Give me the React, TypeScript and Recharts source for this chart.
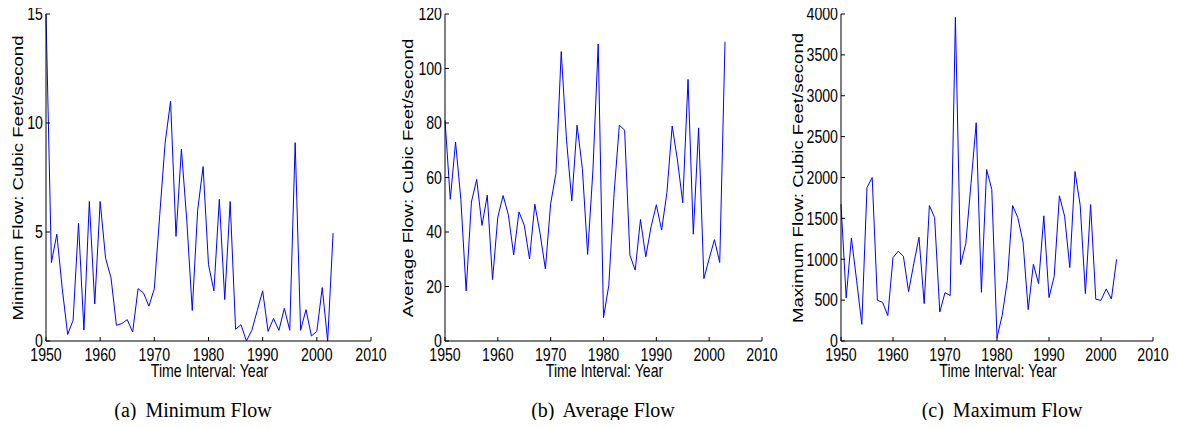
import React from "react";
import { LineChart, Line, XAxis, YAxis } from "recharts";

const years = [
  1950, 1951, 1952, 1953, 1954, 1955, 1956, 1957, 1958, 1959,
  1960, 1961, 1962, 1963, 1964, 1965, 1966, 1967, 1968, 1969,
  1970, 1971, 1972, 1973, 1974, 1975, 1976, 1977, 1978, 1979,
  1980, 1981, 1982, 1983, 1984, 1985, 1986, 1987, 1988, 1989,
  1990, 1991, 1992, 1993, 1994, 1995, 1996, 1997, 1998, 1999,
  2000, 2001, 2002, 2003,
];

const minFlow = [
  15.0, 3.6, 4.9, 2.4, 0.3, 0.95, 5.4, 0.5, 6.4, 1.7,
  6.4, 3.8, 2.9, 0.72, 0.8, 0.98, 0.41, 2.4, 2.2, 1.6,
  2.4, 5.8, 9.1, 11.0, 4.8, 8.8, 5.5, 1.4, 6.0, 8.0,
  3.5, 2.3, 6.5, 1.9, 6.4, 0.54, 0.75, 0.0, 0.49, 1.4,
  2.3, 0.44, 1.03, 0.49, 1.5, 0.49, 9.1, 0.49, 1.44, 0.23,
  0.44, 2.45, 0.0, 4.95,
];

const avgFlow = [
  81, 52, 73, 52, 18.4, 51, 59.3, 42.4, 53.5, 22.5,
  45.5, 53.4, 46.2, 31.6, 47.4, 42.5, 30.1, 50.2, 39.4, 26.4,
  50.4, 61.5, 106.2, 73.7, 51.4, 79.2, 63.3, 31.8, 62.7, 109,
  8.6, 20.4, 54.1, 79.2, 77.4, 31.5, 26, 44.6, 30.9, 41.9,
  50, 40.7, 54.4, 78.9, 66.4, 50.7, 96, 39.2, 78.2, 22.9,
  30.2, 37.2, 28.8, 109.8,
];

const maxFlow = [
  1673, 527, 1261, 743, 204, 1878, 2000, 498, 473, 310,
  1020, 1098, 1037, 604, 947, 1269, 457, 1657, 1510, 355,
  592, 555, 3959, 935, 1192, 1927, 2669, 596, 2098, 1853,
  41, 314, 743, 1657, 1510, 1212, 384, 939, 702, 1531,
  531, 792, 1776, 1527, 898, 2073, 1661, 580, 1669, 510,
  498, 637, 514, 1000,
];

const yearTicks = [1950, 1960, 1970, 1980, 1990, 2000, 2010];
const minTicks = [0, 5, 10, 15];
const avgTicks = [0, 20, 40, 60, 80, 100, 120];
const maxTicks = [0, 500, 1000, 1500, 2000, 2500, 3000, 3500, 4000];

const yTitles = [
  "Minimum Flow: Cubic Feet/second",
  "Average Flow: Cubic Feet/second",
  "Maximum Flow: Cubic Feet/second",
];
const xTitle = "Time Interval: Year";
const captions = ["(a)\u2009 Minimum Flow", "(b)\u2009 Average Flow", "(c)\u2009 Maximum Flow"];

const FONT = "'Liberation Sans', Arial, Helvetica, sans-serif";
const TICK_SIZE = 17.7;

const XTick = (props: any) => {
  const { x, y, payload } = props;
  return (
    <text
      transform={`translate(${x},${y + 12.7}) scale(0.8,1)`}
      textAnchor="middle"
      fontFamily={FONT}
      fontSize={TICK_SIZE}
      fill="#000"
    >
      {payload.value}
    </text>
  );
};

const YTick = (props: any) => {
  const { x, y, payload } = props;
  return (
    <text
      transform={`translate(${x},${y + 6.3}) scale(0.8,1)`}
      textAnchor="end"
      fontFamily={FONT}
      fontSize={TICK_SIZE}
      fill="#000"
    >
      {payload.value}
    </text>
  );
};

const panels = [
  { values: minFlow, ticks: minTicks, left: 0, width: 395, ml: 6 },
  { values: avgFlow, ticks: avgTicks, left: 390, width: 396, ml: 15 },
  { values: maxFlow, ticks: maxTicks, left: 790, width: 387, ml: 11 },
];

// overlay text positions (titles / captions)
const yTitleX = [22.7, 412.5, 802.6];
const xTitleX = [209.5, 604.5, 998];
const captionX = [193, 603, 1002];

function Panel({ values, ticks, width, ml }: any) {
  const data = years.map((year, i) => ({ year, v: values[i] }));
  const top = ticks[ticks.length - 1];
  return (
    <LineChart width={width} height={371} data={data} margin={{ top: 14, right: 24, left: ml, bottom: 0 }}>
      <XAxis
        dataKey="year"
        type="number"
        domain={[1950, 2010]}
        ticks={yearTicks}
        height={30}
        tickSize={-4}
        tickMargin={11.3}
        tick={<XTick />}
        axisLine={{ stroke: "#000", strokeWidth: 1 }}
        tickLine={{ stroke: "#000" }}
        interval={0}
      />
      <XAxis
        xAxisId="t"
        orientation="top"
        dataKey="year"
        type="number"
        domain={[1950, 2010]}
        ticks={yearTicks}
        height={0}
        tickSize={-4}
        tick={false}
        axisLine={{ stroke: "#000", strokeWidth: 1 }}
        tickLine={{ stroke: "#000" }}
        interval={0}
      />
      <YAxis
        type="number"
        domain={[0, top]}
        ticks={ticks}
        width={40}
        tickSize={-4}
        tickMargin={7}
        tick={<YTick />}
        axisLine={{ stroke: "#000", strokeWidth: 1 }}
        tickLine={{ stroke: "#000" }}
        interval={0}
      />
      <YAxis
        yAxisId="r"
        orientation="right"
        type="number"
        domain={[0, top]}
        ticks={ticks}
        width={0}
        tickSize={-4}
        tick={false}
        axisLine={{ stroke: "#000", strokeWidth: 1 }}
        tickLine={{ stroke: "#000" }}
        interval={0}
      />
      <Line
        type="linear"
        dataKey="v"
        stroke="#0000ff"
        strokeWidth={1}
        dot={false}
        activeDot={false}
        isAnimationActive={false}
      />
    </LineChart>
  );
}

export default function App() {
  return (
    <div style={{ position: "relative", width: 1178, height: 428, margin: -8, background: "#fff" }}>
      {panels.map((p, i) => (
        <div key={i} style={{ position: "absolute", left: p.left, top: 0 }}>
          <Panel {...p} />
        </div>
      ))}
      <svg width={1178} height={428} style={{ position: "absolute", left: 0, top: 0, pointerEvents: "none" }}>
        {yTitles.map((t, i) => (
          <text
            key={"y" + i}
            transform={`translate(${yTitleX[i]},178) rotate(-90) scale(1,0.8)`}
            textAnchor="middle"
            fontFamily={FONT}
            fontSize={18.6}
            fill="#000"
          >
            {t}
          </text>
        ))}
        {xTitleX.map((cx, i) => (
          <text
            key={"x" + i}
            transform={`translate(${cx},377.3) scale(0.8,1)`}
            textAnchor="middle"
            fontFamily={FONT}
            fontSize={TICK_SIZE}
            fill="#000"
          >
            {xTitle}
          </text>
        ))}
        {captions.map((c, i) => (
          <text
            key={"c" + i}
            x={captionX[i]}
            y={417}
            textAnchor="middle"
            fontFamily="'Liberation Serif', 'Times New Roman', serif"
            fontSize={20}
            fill="#000"
          >
            {c}
          </text>
        ))}
      </svg>
    </div>
  );
}
